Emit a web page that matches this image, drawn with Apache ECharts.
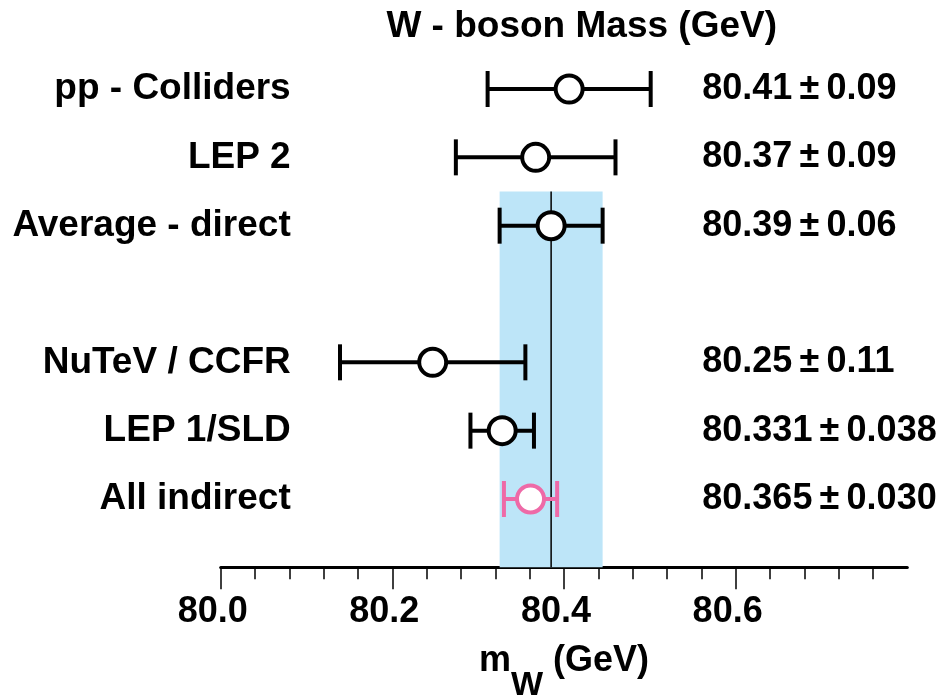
<!DOCTYPE html>
<html>
<head>
<meta charset="utf-8">
<script src="https://cdn.jsdelivr.net/npm/echarts@6/dist/echarts.min.js"></script>
<style>
html,body{margin:0;padding:0;background:#fff;}
#chart{width:948px;height:698px;}
</style>
</head>
<body>
<div id="chart"></div>
<script>
// ---- data ----
const rowNames = ['pp - Colliders', 'LEP 2', 'Average - direct', '', 'NuTeV / CCFR', 'LEP 1/SLD', 'All indirect'];
const valueTexts = ['80.41\u2009±\u20090.09', '80.37\u2009±\u20090.09', '80.39\u2009±\u20090.06', '', '80.25\u2009±\u20090.11', '80.331\u2009±\u20090.038', '80.365\u2009±\u20090.030'];
const centralValues = [80.406, 80.367, 80.385, null, 80.247, 80.328, 80.361];
const errors = [0.095, 0.093, 0.060, null, 0.108, 0.037, 0.031];
const markerColors = ['#000000', '#000000', '#000000', null, '#000000', '#000000', '#ee6aa7'];
const bandRow = 2;          // band taken from "Average - direct"
const xTicks = [80.0, 80.2, 80.4, 80.6];

const FONT = "'Liberation Sans', Arial, Helvetica, sans-serif";

const pointData = [];
centralValues.forEach((v, i) => {
  if (v !== null) pointData.push([v, i, errors[i], markerColors[i]]);
});

const chart = echarts.init(document.getElementById('chart'), null, {renderer: 'canvas'});

const labelStyle = {fontFamily: FONT, fontWeight: 'bold', fontSize: 36, color: '#000'};

chart.setOption({
  animation: false,
  backgroundColor: '#fff',
  title: {
    text: 'W - boson Mass (GeV)',
    right: 166,
    top: 3,
    textStyle: {fontFamily: FONT, fontWeight: 'bold', fontSize: 37, color: '#000'}
  },
  grid: {left: 220.7, right: 40.7, top: 20.7, bottom: 130.7, containLabel: false, outerBoundsMode: 'none'},
  xAxis: {
    type: 'value',
    position: 'bottom',
    min: 80.0,
    max: 80.8,
    interval: 0.2,
    axisLine: {show: true, onZero: false, lineStyle: {color: '#000', width: 3}},
    axisTick: {show: true, customValues: xTicks, length: 22, lineStyle: {color: '#000', width: 1.5}},
    minorTick: {show: true, splitNumber: 5, length: 12, lineStyle: {color: '#000', width: 1.5}},
    splitLine: {show: false},
    minorSplitLine: {show: false},
    axisLabel: Object.assign({}, labelStyle, {
      customValues: xTicks,
      margin: 27,
      padding: [0, 16, 0, 0],
      formatter: v => v.toFixed(1)
    }),
    name: '{m|m}{w|W}{g| (GeV)}',
    nameLocation: 'middle',
    nameGap: 76,
    nameTextStyle: {
      fontFamily: FONT, fontWeight: 'bold', color: '#000',
      rich: {
        m: {fontFamily: FONT, fontWeight: 'bold', fontSize: 36, color: '#000', lineHeight: 40, verticalAlign: 'top'},
        w: {fontFamily: FONT, fontWeight: 'bold', fontSize: 34, color: '#000', lineHeight: 84, verticalAlign: 'middle'},
        g: {fontFamily: FONT, fontWeight: 'bold', fontSize: 36, color: '#000', lineHeight: 40, verticalAlign: 'top'}
      }
    }
  },
  yAxis: [
    {
      type: 'value', min: -1, max: 7, interval: 1, inverse: true,
      axisLine: {show: false}, axisTick: {show: false}, splitLine: {show: false},
      axisLabel: Object.assign({}, labelStyle, {
        fontSize: 37,
        margin: -70,
        formatter: v => (rowNames[v] !== undefined ? rowNames[v] : '')
      })
    },
    {
      type: 'value', min: -1, max: 7, interval: 1, inverse: true, position: 'right',
      axisLine: {show: false}, axisTick: {show: false}, splitLine: {show: false},
      axisLabel: Object.assign({}, labelStyle, {
        margin: -205,
        formatter: v => (valueTexts[v] !== undefined ? valueTexts[v] : '')
      })
    }
  ],
  series: [
    {
      type: 'custom',
      z: 1,
      silent: true,
      data: [[centralValues[bandRow], errors[bandRow]]],
      renderItem: function (params, api) {
        const c = api.value(0), e = api.value(1);
        const p1 = api.coord([c - e, bandRow - 0.5]);
        const p2 = api.coord([c + e, 7]);
        const l1 = api.coord([c, bandRow - 0.5]);
        const l2 = api.coord([c, 7]);
        return {
          type: 'group',
          children: [
            {type: 'rect', shape: {x: p1[0], y: p1[1], width: p2[0] - p1[0], height: p2[1] - p1[1]},
             style: {fill: '#bde5f8'}},
            {type: 'line', shape: {x1: l1[0], y1: l1[1], x2: l2[0], y2: l2[1]},
             style: {stroke: '#000', lineWidth: 1.5}}
          ]
        };
      }
    },
    {
      type: 'custom',
      z: 3,
      silent: true,
      data: pointData,
      renderItem: function (params, api) {
        const v = api.value(0), row = api.value(1), e = api.value(2);
        const col = pointData[params.dataIndex][3];
        const pl = api.coord([v - e, row]);
        const pr = api.coord([v + e, row]);
        const pc = api.coord([v, row]);
        const capH = 18;
        return {
          type: 'group',
          children: [
            {type: 'line', shape: {x1: pl[0], y1: pl[1], x2: pr[0], y2: pr[1]}, style: {stroke: col, lineWidth: 4}},
            {type: 'line', shape: {x1: pl[0], y1: pl[1] - capH, x2: pl[0], y2: pl[1] + capH}, style: {stroke: col, lineWidth: 4}},
            {type: 'line', shape: {x1: pr[0], y1: pr[1] - capH, x2: pr[0], y2: pr[1] + capH}, style: {stroke: col, lineWidth: 4}},
            {type: 'circle', shape: {cx: pc[0], cy: pc[1], r: 13.5}, style: {fill: '#fff', stroke: col, lineWidth: 4}}
          ]
        };
      }
    }
  ]
});
</script>
</body>
</html>
